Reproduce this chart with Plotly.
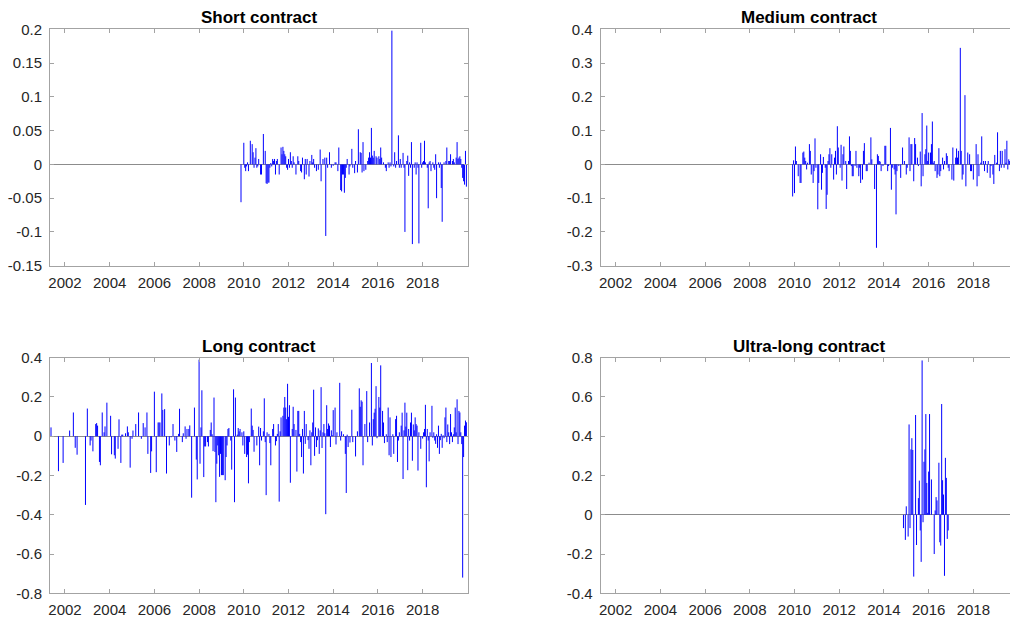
import plotly.graph_objects as go

# ---------------- data (half-monthly observations, one row per calendar year) ----------------
short_years = [2009, 2010, 2011, 2012, 2013, 2014, 2015, 2016, 2017, 2018, 2019]
short_values = [
    [None] * 21 + [-0.056, 0, 0],
    [0.032, -0.005, -0.01, -0.003, 0.003, -0.01, 0, 0.035, 0, 0.03, 0.018, -0.005, 0.01, 0.024, -0.005, -0.003, 0.008, 0, -0.015, -0.015, 0, 0.045, 0, 0.02],
    [-0.028, -0.029, -0.027, -0.027, -0.005, 0.002, -0.003, 0.008, 0.005, 0.008, -0.015, 0.005, 0.008, 0, -0.015, 0, 0.025, 0.015, 0.026, 0.02, 0.015, 0.012, -0.005, -0.008],
    [0.008, -0.005, 0.018, 0.005, -0.005, 0.012, 0.003, 0, -0.015, 0, 0.012, 0.005, 0, -0.01, -0.012, 0.01, 0, -0.022, 0.008, -0.015, 0.008, 0, -0.018, 0.005],
    [0, 0.014, 0.003, 0.008, -0.005, 0, -0.01, 0, -0.008, 0, 0.022, -0.025, 0, 0.008, 0, 0.01, -0.106, 0.01, -0.005, 0, 0.018, 0, -0.005, 0],
    [-0.002, 0, 0.003, 0.003, 0, -0.01, 0.025, 0, -0.038, -0.04, -0.015, -0.015, -0.042, -0.02, -0.005, 0.008, 0, -0.015, -0.003, 0, 0.023, -0.005, 0, -0.013],
    [0.005, 0, -0.012, 0.052, 0, 0.018, 0.017, -0.012, 0.033, -0.01, 0, -0.008, 0, 0.005, 0.01, 0.018, 0.01, 0.054, 0.013, 0.01, 0.02, 0, 0.012, 0.01],
    [0, 0.012, 0.008, 0.025, 0.01, 0, 0.003, 0, -0.005, -0.01, 0, 0.003, -0.005, 0.003, -0.003, 0.198, 0, -0.003, 0.018, -0.005, 0.005, 0, 0.043, -0.005],
    [0.008, -0.005, 0, 0.017, -0.005, -0.1, 0, 0.005, 0.013, -0.017, 0.003, -0.005, 0.033, -0.118, 0, -0.005, 0.003, -0.015, 0.003, -0.005, -0.117, 0, 0.032, -0.005],
    [0.003, 0.005, 0.035, 0.003, 0, -0.005, -0.065, 0.003, 0.005, -0.01, 0, 0.003, -0.005, -0.008, 0.015, -0.05, 0, 0.003, -0.005, 0.003, -0.035, -0.085, 0, 0.003],
    [0, 0.005, 0.025, 0, 0.005, 0.005, 0.015, 0, 0.005, 0.008, 0.003, 0, 0.01, 0.033, 0.008, 0.01, 0.012, 0.008, -0.005, -0.02, -0.025, -0.03, 0.02, -0.033],
]

medium_years = [2009, 2010, 2011, 2012, 2013, 2014, 2015, 2016, 2017, 2018, 2019]
medium_values = [
    [None] * 22 + [-0.095, 0.012],
    [-0.085, 0.053, 0.01, 0, -0.035, 0, -0.055, -0.055, 0, 0.035, 0.038, 0.02, 0.01, -0.015, 0.005, 0, 0.06, 0.04, -0.03, 0, -0.055, -0.02, 0.077, -0.01],
    [0, -0.133, -0.055, 0, 0.03, -0.075, -0.025, 0.022, 0, -0.01, -0.132, -0.09, 0.01, 0.03, 0.048, -0.01, 0.03, 0, -0.045, 0.02, 0.04, -0.03, 0.113, 0.05],
    [0, -0.01, 0.058, -0.048, 0.03, 0.053, 0, 0.01, -0.073, 0, 0.01, 0.083, 0.04, -0.005, -0.035, -0.035, 0, -0.005, 0.04, -0.01, 0, -0.035, -0.01, -0.055],
    [0, -0.045, 0.04, 0.063, 0, -0.02, -0.02, 0, 0.005, 0, 0.08, 0.015, 0, 0, -0.073, 0, -0.247, 0.03, 0.025, 0.01, 0.008, -0.02, 0, -0.005],
    [0, 0.055, 0.055, 0, -0.02, -0.005, 0, 0.108, -0.075, -0.01, 0, -0.015, -0.03, -0.148, -0.02, 0, -0.005, 0, -0.04, 0, 0.05, 0, 0.01, 0],
    [-0.03, -0.01, 0, 0.08, -0.02, 0.06, 0.06, 0, -0.05, 0.078, 0.06, 0, 0.02, -0.005, 0, 0.038, -0.065, 0.152, -0.035, 0, 0.03, 0.045, 0.115, 0.01],
    [0.035, 0, 0.035, 0.06, 0.127, 0.005, 0.01, -0.02, 0, -0.04, -0.03, 0.048, -0.035, -0.02, 0, 0.02, -0.015, 0.01, 0, 0.033, 0.025, -0.01, -0.02, 0],
    [0, -0.045, 0.05, -0.048, 0, 0.02, 0.047, 0.02, 0.04, 0, 0.345, 0.04, -0.045, -0.03, 0, 0.205, -0.065, 0, 0.035, 0, 0.03, -0.02, -0.02, 0],
    [-0.045, 0, 0, 0.06, -0.065, 0.03, -0.035, 0, 0.005, 0.083, 0, 0.01, -0.02, 0.01, 0, -0.025, 0.01, 0, -0.04, -0.005, 0, -0.03, -0.058, 0.028],
    [0, 0.005, 0.095, 0, -0.02, 0.04, -0.01, 0.04, 0, -0.01, 0.045, 0.005, 0.07, -0.015, 0.015, 0.01, -0.01, 0.02, 0.005, -0.01, 0.015, 0.01, -0.005, 0.01],
]

long_years = list(range(2001, 2020))
long_values = [
    [None] * 9 + [0.045, 0, 0, 0, 0, 0, 0, 0, -0.178, 0, 0, 0, 0, -0.136, 0],
    [0, 0, 0, 0, 0, 0.029, 0, 0, 0, 0.121, 0, -0.059, 0, -0.094, 0, 0, 0, 0, 0, 0, 0, 0, -0.35, 0],
    [0.141, 0, 0, -0.047, -0.022, 0, -0.077, 0, 0, 0.062, 0.067, 0.054, 0, -0.131, -0.148, 0, 0.121, 0, 0.02, 0.05, 0, 0.171, 0, 0],
    [0, 0.104, -0.092, 0, 0, -0.097, -0.114, 0, 0, -0.064, 0.086, 0, -0.136, 0.008, 0.008, 0, 0, 0.015, 0, 0.05, 0.02, 0, -0.16, 0],
    [-0.013, 0.029, 0, 0, 0.062, 0, 0, 0.121, 0, 0, -0.013, 0, 0.067, 0, 0.045, 0, 0.121, -0.09, 0, 0, -0.187, -0.077, 0, 0],
    [0.227, 0, -0.183, 0, 0.07, 0.07, 0.07, 0, 0.218, 0.134, 0, 0.138, 0, -0.19, 0, 0, -0.047, 0, -0.005, 0, 0.062, 0, -0.022, 0],
    [-0.08, 0, 0.012, 0.14, 0, 0, -0.03, 0.015, 0, 0.05, -0.013, 0.037, 0, 0.037, 0.055, 0, -0.313, 0, 0, 0.146, 0, -0.119, -0.22, 0],
    [0.39, -0.14, 0.045, 0.234, 0, -0.208, -0.052, -0.052, 0, -0.03, -0.052, 0, 0.032, 0.07, 0.01, -0.076, 0.197, -0.08, -0.336, -0.14, -0.047, -0.097, -0.207, -0.09],
    [-0.198, -0.198, -0.198, 0, -0.224, -0.106, -0.047, 0.037, 0.042, 0, -0.022, -0.17, 0, 0.239, -0.336, 0.197, 0, 0.008, 0.042, 0.025, 0.037, 0, 0.02, -0.047],
    [0.025, -0.09, 0, -0.106, -0.094, -0.24, -0.03, 0, 0.141, 0.054, 0.032, -0.079, 0, 0, -0.047, 0, 0.049, -0.148, 0.042, -0.022, 0, 0.025, 0.193, -0.03],
    [-0.30, 0.02, 0, 0.012, -0.035, -0.148, 0, 0.037, 0.062, 0, -0.047, -0.025, 0.012, 0.062, -0.333, 0.025, 0.096, 0, 0.104, 0.146, 0.2, 0.146, 0.087, 0.267],
    [0.099, 0.158, -0.237, 0, 0.037, 0.15, 0.062, 0, 0.032, -0.18, 0.129, 0.129, 0.012, -0.03, -0.106, 0.037, -0.19, 0.129, -0.039, 0.062, 0, -0.02, -0.064, 0.03],
    [-0.148, 0.02, 0.07, 0.237, -0.1, 0.045, -0.055, -0.02, 0.04, -0.09, 0.03, 0.25, -0.06, 0.02, 0.062, 0.015, -0.397, 0.158, 0.037, 0.065, 0.054, -0.055, 0.03, 0.005],
    [0.133, 0, 0.146, -0.042, 0.02, 0, 0, 0.272, -0.022, 0.025, 0, 0.01, 0, -0.09, -0.289, 0.008, -0.055, 0, -0.032, 0, 0.135, -0.03, 0, 0],
    [-0.103, 0, 0.025, 0, 0.244, 0.15, 0.183, 0.176, -0.148, 0, 0.062, 0, 0.23, -0.03, 0, 0.07, 0, 0.373, -0.047, 0.087, 0.12, 0.14, 0.255, -0.01],
    [0, 0.2, 0.146, 0.361, 0, 0.129, 0.07, -0.035, 0, 0.01, -0.03, 0.146, -0.097, 0.096, -0.106, 0, 0.01, -0.09, 0, 0.087, 0.104, -0.131, -0.022, 0.02],
    [0, 0.054, 0.12, -0.218, 0.03, 0.171, 0.049, 0.12, -0.173, 0.037, -0.022, 0.07, 0.12, -0.125, 0.06, 0.03, 0.096, 0.062, 0.054, -0.175, 0.02, 0, -0.064, 0],
    [-0.012, 0.02, 0.037, 0.16, -0.26, 0.037, -0.022, -0.128, 0.02, 0, 0.155, -0.008, 0.02, -0.022, -0.039, 0.01, -0.059, 0.054, -0.09, -0.02, 0.012, -0.059, 0.005, -0.01],
    [0.096, 0.146, -0.03, 0.06, 0.02, -0.04, 0.113, 0.02, -0.03, 0.01, 0.045, 0.146, 0.02, 0.188, -0.04, 0.129, 0.121, 0.02, -0.04, -0.72, -0.106, 0.054, 0.08, 0.071],
]

ultra_years = [2014, 2015, 2016]
ultra_values = [
    [None] * 21 + [-0.068, 0, -0.128],
    [0.043, 0, -0.111, 0.46, -0.068, 0.333, 0.39, 0.33, -0.315, 0, 0.508, -0.154, 0, 0.085, 0.174, -0.08, -0.24, 0.786, -0.038, 0.27, 0.333, 0.513, 0.162, 0.01],
    [0.22, 0.513, 0, 0.18, 0, 0, -0.2, 0.022, 0.09, 0.073, 0, 0.265, -0.14, -0.157, 0.564, 0.176, 0.103, -0.311, 0.29, 0.188, -0.123, -0.08],
]

titles = ["Short contract", "Medium contract", "Long contract", "Ultra-long contract"]

x_tickvals = [2002, 2004, 2006, 2008, 2010, 2012, 2014, 2016, 2018]
x_ticktext = ["2002", "2004", "2006", "2008", "2010", "2012", "2014", "2016", "2018"]

y_ticks = [
    ([-0.15, -0.1, -0.05, 0, 0.05, 0.1, 0.15, 0.2], ["-0.15", "-0.1", "-0.05", "0", "0.05", "0.1", "0.15", "0.2"]),
    ([-0.3, -0.2, -0.1, 0, 0.1, 0.2, 0.3, 0.4], ["-0.3", "-0.2", "-0.1", "0", "0.1", "0.2", "0.3", "0.4"]),
    ([-0.8, -0.6, -0.4, -0.2, 0, 0.2, 0.4], ["-0.8", "-0.6", "-0.4", "-0.2", "0", "0.2", "0.4"]),
    ([-0.4, -0.2, 0, 0.2, 0.4, 0.6, 0.8], ["-0.4", "-0.2", "0", "0.2", "0.4", "0.6", "0.8"]),
]
y_ranges = [[-0.15, 0.2], [-0.3, 0.4], [-0.8, 0.4], [-0.4, 0.8]]


def stems(years, rows):
    xs, ys = [], []
    for yr, row in zip(years, rows):
        for k, v in enumerate(row):
            if v is None:
                continue
            t = yr + k / 24.0
            xs += [t, t, None]
            ys += [0, v, None]
    return xs, ys


series = [(short_years, short_values), (medium_years, medium_values),
          (long_years, long_values), (ultra_years, ultra_values)]

W, H = 1010, 617
FONT = "Liberation Sans, Arial, Helvetica, sans-serif"
AX = "#a3a3a3"
TXT = "#262626"

# panel geometry (pixels)
left_dom = [50 / W, 468 / W]
right_dom = [600.7 / W, 1.0]
top_dom = [1 - 265.7 / H, 1 - 29.3 / H]
bot_dom = [1 - 593.3 / H, 1 - 357.7 / H]
x_doms = [left_dom, right_dom, left_dom, right_dom]
y_doms = [top_dom, top_dom, bot_dom, bot_dom]
x_ranges = [[2001.33, 2020.03], [2001.33, 2019.64], [2001.33, 2020.03], [2001.33, 2019.64]]

fig = go.Figure()
layout = dict(
    width=W, height=H,
    margin=dict(l=0, r=0, t=0, b=0, pad=0, autoexpand=False),
    paper_bgcolor="white", plot_bgcolor="white",
    showlegend=False,
    font=dict(family=FONT, size=15, color=TXT),
)

annotations = []
for i, (yrs, vals) in enumerate(series):
    n = "" if i == 0 else str(i + 1)
    xs, ys = stems(yrs, vals)
    fig.add_trace(go.Scatter(
        x=xs, y=ys, mode="lines",
        line=dict(color="rgb(0,0,255)", width=1),
        xaxis="x" + n, yaxis="y" + n, hoverinfo="skip",
    ))
    right = i in (1, 3)
    layout["xaxis" + n] = dict(
        domain=x_doms[i], range=x_ranges[i], anchor="y" + n,
        tickvals=x_tickvals, ticktext=x_ticktext,
        ticks="inside", ticklen=4, tickcolor=AX, tickwidth=1,
        showline=True, linecolor=AX, linewidth=1, mirror="ticks",
        showgrid=False, zeroline=False, automargin=False,
        tickfont=dict(family=FONT, size=15, color=TXT),
        ticklabelstandoff=3,
    )
    layout["yaxis" + n] = dict(
        domain=y_doms[i], range=y_ranges[i], anchor="x" + n,
        tickvals=y_ticks[i][0], ticktext=y_ticks[i][1],
        ticks="inside", ticklen=4, tickcolor=AX, tickwidth=1,
        showline=True, linecolor=AX, linewidth=1,
        mirror=False if right else "ticks",
        showgrid=False, automargin=False,
        zeroline=True, zerolinecolor="#8c8c8c", zerolinewidth=1,
        tickfont=dict(family=FONT, size=15, color=TXT),
        ticklabelstandoff=4,
    )
    xc = (x_doms[i][0] + x_doms[i][1]) / 2 if not right else 809 / W
    ty = (17.5 if i < 2 else 346)
    annotations.append(dict(
        text="<b>" + titles[i] + "</b>", x=xc, y=1 - ty / H,
        xref="paper", yref="paper", xanchor="center", yanchor="middle",
        showarrow=False, font=dict(family=FONT, size=17, color="black"),
    ))

layout["annotations"] = annotations
fig.update_layout(**layout)
fig.write_html("out.html")
